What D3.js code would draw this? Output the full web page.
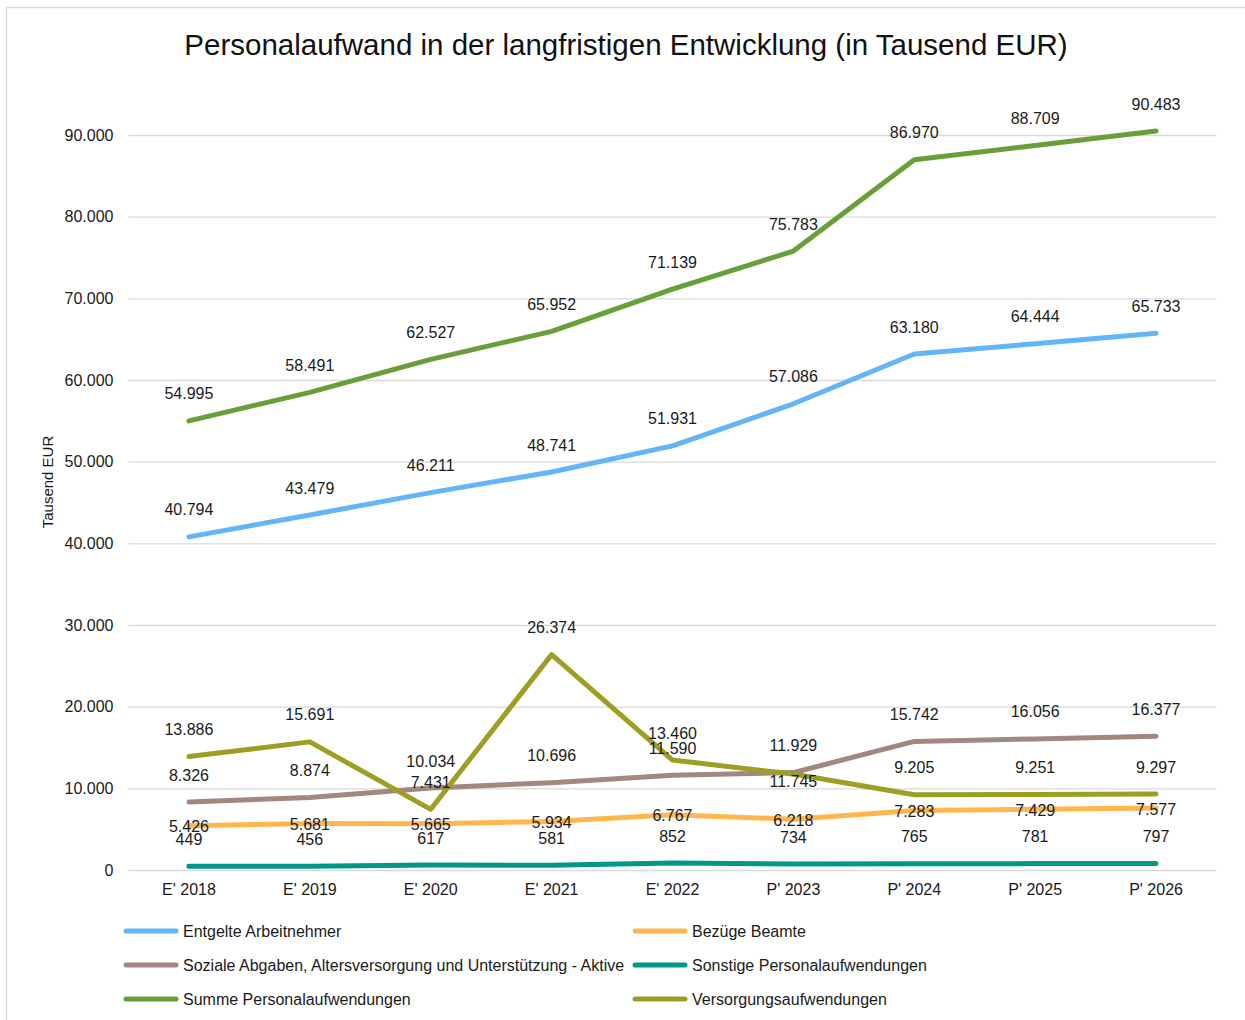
<!DOCTYPE html>
<html>
<head>
<meta charset="utf-8">
<script src="https://cdn.jsdelivr.net/npm/d3@7"></script>
<style>
  html, body { margin: 0; padding: 0; background: #fff; }
  svg { display: block; font-family: "Liberation Sans", Arial, sans-serif; }
</style>
</head>
<body>
<svg id="chart" width="1245" height="1020"></svg>
<script>
// chart values
const CATEGORIES = ["E' 2018", "E' 2019", "E' 2020", "E' 2021", "E' 2022", "P' 2023", "P' 2024", "P' 2025", "P' 2026"];
const entgelte = [40794, 43479, 46211, 48741, 51931, 57086, 63180, 64444, 65733];
const bezuege = [5426, 5681, 5665, 5934, 6767, 6218, 7283, 7429, 7577];
const soziale = [8326, 8874, 10034, 10696, 11590, 11929, 15742, 16056, 16377];
const sonstige = [449, 456, 617, 581, 852, 734, 765, 781, 797];
const summe = [54995, 58491, 62527, 65952, 71139, 75783, 86970, 88709, 90483];
const versorgung = [13886, 15691, 7431, 26374, 13460, 11745, 9205, 9251, 9297];
const Y_TICKS = [0, 10000, 20000, 30000, 40000, 50000, 60000, 70000, 80000, 90000];

const SERIES = [
  { name: "Entgelte Arbeitnehmer", values: entgelte, color: "#64B5F6" },
  { name: "Bezüge Beamte", values: bezuege, color: "#FFB74D" },
  { name: "Soziale Abgaben, Altersversorgung und Unterstützung - Aktive", values: soziale, color: "#A1887F" },
  { name: "Sonstige Personalaufwendungen", values: sonstige, color: "#009688" },
  { name: "Summe Personalaufwendungen", values: summe, color: "#689F38" },
  { name: "Versorgungsaufwendungen", values: versorgung, color: "#9E9D24" },
];
// label offset from point (px), per series; Excel put a few labels elsewhere
const LABEL_DY = [-27, 1, -27, -27, -27, -27];
const LABEL_OVERRIDE = { "5-5": 7 };

const fmt = (v) => v.toLocaleString("de-DE");
const FS = 16;

const svg = d3.select("#chart");
const M = { left: 128.5, right: 1216.5, top: 135, bottom: 870 };

svg.append("rect")
  .attr("x", 6.5).attr("y", 7.5).attr("width", 1260).attr("height", 1040)
  .attr("fill", "none").attr("stroke", "#d9d9d9").attr("stroke-width", 1.5);

const x = d3.scaleBand().domain(CATEGORIES).range([M.left, M.right]);
const y = d3.scaleLinear().domain([0, 90000]).range([M.bottom, M.top]);
const cx = (i) => x(CATEGORIES[i]) + x.bandwidth() / 2;

// gridlines + y labels
const yAxis = d3.axisLeft(y).tickValues(Y_TICKS).tickFormat(fmt)
  .tickSize(-(M.right - M.left)).tickPadding(15);
const gy = svg.append("g").attr("transform", `translate(${M.left},0)`).call(yAxis);
gy.select(".domain").remove();
gy.selectAll(".tick line").attr("stroke", "#d9d9d9").attr("stroke-width", 1.3);
gy.selectAll(".tick text").attr("font-size", FS).attr("fill", "#1a1a1a");

// x labels
const xAxis = d3.axisBottom(x).tickSize(0).tickPadding(14);
const gx = svg.append("g").attr("transform", `translate(0,${M.bottom})`).call(xAxis);
gx.select(".domain").remove();
gx.selectAll(".tick text").attr("font-size", FS).attr("fill", "#1a1a1a");

// lines
const line = d3.line().x((d, i) => cx(i)).y((d) => y(d));
svg.append("g").selectAll("path").data(SERIES).join("path")
  .attr("d", (s) => line(s.values))
  .attr("fill", "none")
  .attr("stroke", (s) => s.color)
  .attr("stroke-width", 5)
  .attr("stroke-linecap", "round")
  .attr("stroke-linejoin", "round");

// data labels
SERIES.forEach((s, si) => {
  svg.append("g").selectAll("text").data(s.values).join("text")
    .attr("x", (d, i) => cx(i))
    .attr("y", (d, i) => {
      const k = `${si}-${i}`;
      const dy = k in LABEL_OVERRIDE ? LABEL_OVERRIDE[k] : LABEL_DY[si];
      return y(d) + dy;
    })
    .attr("dy", "0.35em")
    .attr("text-anchor", "middle")
    .attr("font-size", FS)
    .attr("fill", "#1a1a1a")
    .text(fmt);
});

// title
svg.append("text")
  .attr("x", 626).attr("y", 55)
  .attr("text-anchor", "middle")
  .attr("font-size", 29.5)
  .attr("fill", "#111")
  .text("Personalaufwand in der langfristigen Entwicklung (in Tausend EUR)");

// y axis title
svg.append("text")
  .attr("transform", "translate(53,482) rotate(-90)")
  .attr("text-anchor", "middle")
  .attr("font-size", 15)
  .attr("fill", "#1a1a1a")
  .text("Tausend EUR");

// legend, two columns
const legend = svg.append("g");
SERIES.forEach((s, i) => {
  const col = i % 2, row = Math.floor(i / 2);
  const lx = col === 0 ? 126 : 635;
  const ly = 931 + row * 34;
  legend.append("line")
    .attr("x1", lx).attr("x2", lx + 50).attr("y1", ly).attr("y2", ly)
    .attr("stroke", s.color).attr("stroke-width", 5).attr("stroke-linecap", "round");
  legend.append("text")
    .attr("x", lx + 57).attr("y", ly).attr("dy", "0.35em")
    .attr("font-size", FS).attr("fill", "#1a1a1a")
    .text(s.name);
});
</script>
</body>
</html>
